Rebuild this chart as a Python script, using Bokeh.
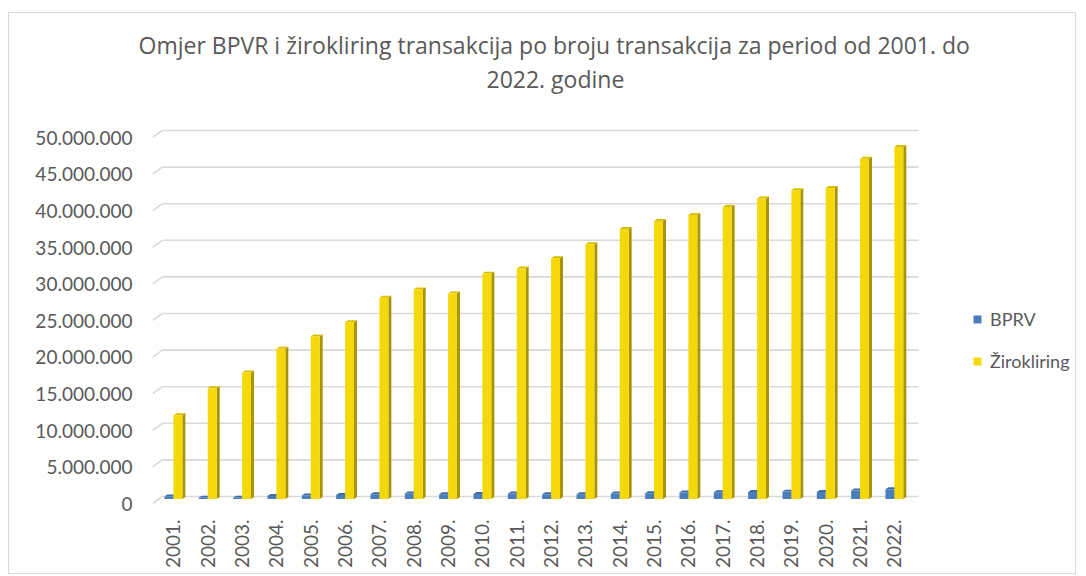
import math
from bokeh.plotting import figure
from bokeh.models import FixedTicker, Legend, LegendItem, Title
from bokeh.embed import file_html
from bokeh.resources import INLINE

# ---- data ----
years = ["2001.", "2002.", "2003.", "2004.", "2005.", "2006.", "2007.", "2008.",
         "2009.", "2010.", "2011.", "2012.", "2013.", "2014.", "2015.", "2016.",
         "2017.", "2018.", "2019.", "2020.", "2021.", "2022."]
bprv = [340000, 200000, 200000, 430000, 480000, 570000, 660000, 750000,
        660000, 700000, 750000, 660000, 660000, 750000, 800000, 890000,
        930000, 980000, 1020000, 980000, 1160000, 1340000]
zirokliring = [11450000, 15150000, 17300000, 20550000, 22200000, 24150000,
               27500000, 28650000, 28100000, 30800000, 31500000, 32900000,
               34800000, 36900000, 38000000, 38800000, 39900000, 41050000,
               42200000, 42500000, 46500000, 48100000]
y_ticks = [0, 5000000, 10000000, 15000000, 20000000, 25000000, 30000000,
           35000000, 40000000, 45000000, 50000000]
y_tick_labels = ["0", "5.000.000", "10.000.000", "15.000.000", "20.000.000",
                 "25.000.000", "30.000.000", "35.000.000", "40.000.000",
                 "45.000.000", "50.000.000"]
series_names = ["BPRV", "Žirokliring"]
title_lines = ["Omjer BPVR i žirokliring transakcija po broju transakcija za period od 2001. do",
               "2022. godine"]

FONT = "Lato"
TFONT = "Open Sans"
TXT = "#595959"
BLUE, BLUE_SIDE, BLUE_TOP = "#4a7ebb", "#2f5a8c", "#3d6ca6"
YEL, YEL_SIDE, YEL_TOP = "#f5d80a", "#a89300", "#d8bd00"
GRID = "#d9d9d9"

# 3D-look geometry (in data units)
W = 0.26          # bar width
DX = 0.087        # depth offset, x
DY = 270000       # depth offset, y
D = 350000        # front-face shift below the back baseline
WALL_X_FRONT, WALL_X_BACK = -0.61, -0.32
WALL_DY = 950000
GRID_END = 21.7

p = figure(width=1068, height=562, output_backend="svg", toolbar_location=None,
           x_range=(-0.61, 26.13), y_range=(-1090000, 50820000),
           min_border_left=143, min_border_right=7, min_border_top=111,
           min_border_bottom=71, background_fill_color="white",
           border_fill_color="white", outline_line_color=None,
           styles={"border": "1px solid #d9d9d9", "margin-left": "8px",
                   "margin-top": "12px"})
p.xgrid.visible = False
p.ygrid.visible = False

# title: two lines, each centred over the chart area
p.add_layout(Title(text=title_lines[1], align="left", offset=334, text_font=TFONT,
                   text_font_size="23px", text_font_style="normal",
                   text_color=TXT, standoff=60), "above")
p.add_layout(Title(text=title_lines[0], align="left", offset=-14, text_font=TFONT,
                   text_font_size="23px", text_font_style="normal",
                   text_color=TXT, standoff=-60), "above")

# gridlines (back wall + left wall slant)
p.segment(x0=[WALL_X_BACK] * len(y_ticks), y0=y_ticks,
          x1=[GRID_END] * len(y_ticks), y1=y_ticks, line_color=GRID, line_width=1.6)
p.segment(x0=[WALL_X_FRONT] * len(y_ticks), y0=[t - WALL_DY for t in y_ticks],
          x1=[WALL_X_BACK] * len(y_ticks), y1=y_ticks, line_color=GRID, line_width=1.6)

idx = list(range(len(years)))

def draw_series(values, left_off, front, side, top):
    lefts = [i + left_off for i in idx]
    rights = [l + W for l in lefts]
    tops = [v - D for v in values]
    side_xs = [[r, r + DX, r + DX, r] for r in rights]
    side_ys = [[-D, -D + DY, t + DY, t] for t in tops]
    top_xs = [[l, l + DX, r + DX, r] for l, r in zip(lefts, rights)]
    top_ys = [[t, t + DY, t + DY, t] for t in tops]
    p.patches(side_xs, side_ys, fill_color=side, line_color=None)
    p.patches(top_xs, top_ys, fill_color=top, line_color=None)
    return p.quad(left=lefts, right=rights, bottom=[-D] * len(values), top=tops,
                  fill_color=front, line_color=None)

r_blue = draw_series(bprv, -W, BLUE, BLUE_SIDE, BLUE_TOP)
r_yel = draw_series(zirokliring, 0.0, YEL, YEL_SIDE, YEL_TOP)

# axes
SHIFT = 1000000
p.yaxis.ticker = FixedTicker(ticks=[t - SHIFT for t in y_ticks])
p.yaxis.major_label_overrides = {t - SHIFT: lab for t, lab in zip(y_ticks, y_tick_labels)}
p.xaxis.ticker = FixedTicker(ticks=idx)
p.xaxis.major_label_overrides = {i: y for i, y in zip(idx, years)}
p.xaxis.major_label_orientation = math.pi / 2
for ax in (p.xaxis[0], p.yaxis[0]):
    ax.axis_line_color = None
    ax.major_tick_line_color = None
    ax.minor_tick_line_color = None
    ax.major_label_text_font = FONT
    ax.major_label_text_font_size = "19px"
    ax.major_label_text_color = TXT
p.yaxis.major_label_standoff = 14
p.xaxis.major_label_standoff = 9

legend = Legend(items=[LegendItem(label=series_names[0], renderers=[r_blue]),
                       LegendItem(label=series_names[1], renderers=[r_yel])],
                location=(820, 132), orientation="vertical",
                glyph_width=10, glyph_height=10, label_height=20, spacing=20,
                label_standoff=8, padding=0, margin=0,
                border_line_color=None, background_fill_alpha=0,
                label_text_font=FONT, label_text_font_size="18px",
                label_text_color=TXT)
p.add_layout(legend)

open("out.html", "w").write(file_html(p, INLINE))
